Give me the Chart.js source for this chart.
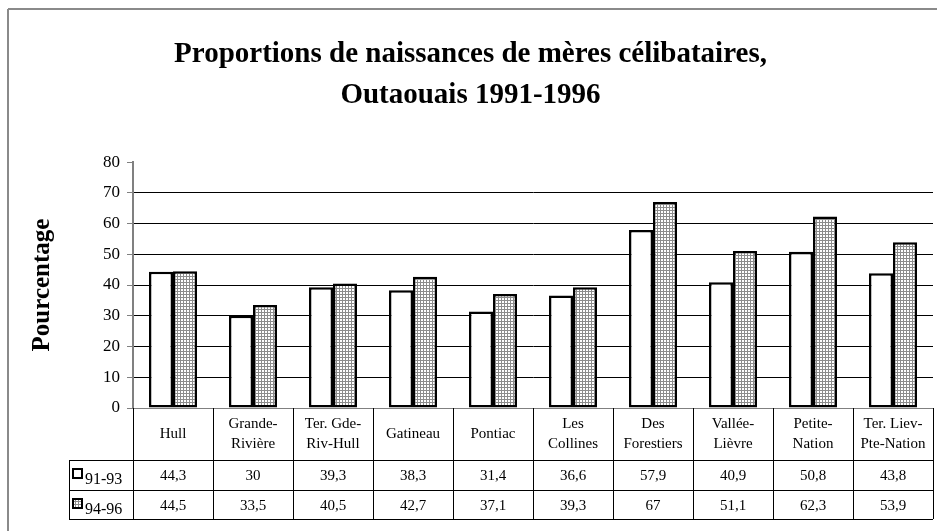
<!DOCTYPE html>
<html>
<head>
<meta charset="utf-8">
<script src="https://cdn.jsdelivr.net/npm/chart.js@4.4.1/dist/chart.umd.min.js"></script>
<style>
    body { margin: 0; background: #fff; }
    canvas { display: block; }
</style>
</head>
<body>
<canvas id="chart" width="937" height="531"></canvas>
<script>
// data
const categories = ['Hull', ['Grande-', 'Rivière'], ['Ter. Gde-', 'Riv-Hull'], 'Gatineau', 'Pontiac',
    ['Les', 'Collines'], ['Des', 'Forestiers'], ['Vallée-', 'Lièvre'], ['Petite-', 'Nation'], ['Ter. Liev-', 'Pte-Nation']];
const values9193 = [44.3, 30, 39.3, 38.3, 31.4, 36.6, 57.9, 40.9, 50.8, 43.8];
const values9496 = [44.5, 33.5, 40.5, 42.7, 37.1, 39.3, 67, 51.1, 62.3, 53.9];
const seriesNames = ['91-93', '94-96'];
const yMin = 0, yMax = 80, yStep = 10;

const canvas = document.getElementById('chart');
const ctx = canvas.getContext('2d');

function makeHatch() {
    const p = document.createElement('canvas');
    p.width = 3; p.height = 3;
    const g = p.getContext('2d');
    g.fillStyle = '#fff';
    g.fillRect(0, 0, 3, 3);
    g.fillStyle = '#8c8c8c';
    g.fillRect(0, 0, 3, 1);
    g.fillRect(0, 0, 1, 3);
    return ctx.createPattern(p, 'repeat');
}
const hatch = makeHatch();

const fmt = v => String(v).replace('.', ',');

function line(c, x1, y1, x2, y2) {
    c.beginPath();
    c.moveTo(x1, y1);
    c.lineTo(x2, y2);
    c.stroke();
}

const tablePlugin = {
    id: 'dataTable',
    beforeDraw(chart) {
        const c = chart.ctx;
        c.save();
        c.fillStyle = '#fff';
        c.fillRect(0, 0, chart.width, chart.height);
        c.strokeStyle = '#8a8a8a';
        c.lineWidth = 2;
        line(c, 8, chart.height, 8, 9);
        line(c, 8, 9, chart.width, 9);
        c.restore();
    },
    afterDraw(chart) {
        const c = chart.ctx;
        const a = chart.chartArea;
        const x = chart.scales.x;
        const n = categories.length;
        const w = (a.right - a.left) / n;
        const top = Math.round(a.bottom);
        const r1 = top + 52, r2 = r1 + 30, r3 = r2 + 29;
        const legL = 69;
        const px = v => Math.round(v) + 0.5;

        c.save();
        c.strokeStyle = '#000';
        c.lineWidth = 1;
        [r1, r2, r3].forEach(y => line(c, legL, px(y), a.right, px(y)));
        for (let i = 0; i <= n; i++) {
            const xx = px(a.left + i * w);
            line(c, xx, top, xx, r3);
        }
        line(c, px(legL), r1, px(legL), r3);

        c.fillStyle = '#000';
        c.textAlign = 'center';
        c.textBaseline = 'middle';
        c.font = '15px "Liberation Serif"';
        categories.forEach((cat, i) => {
            const cx = x.getPixelForValue(i);
            const lines = Array.isArray(cat) ? cat : [cat];
            const mid = (top + r1) / 2;
            lines.forEach((t, j) => {
                c.fillText(t, cx, mid + (j - (lines.length - 1) / 2) * 20);
            });
            c.fillText(fmt(values9193[i]), cx, (r1 + r2) / 2 + 1);
            c.fillText(fmt(values9496[i]), cx, (r2 + r3) / 2 + 2);
        });

        // legend keys
        const rows = [[r1, r2, '#fff'], [r2, r3, hatch]];
        c.textAlign = 'left';
        c.font = '16px "Liberation Serif"';
        rows.forEach((r, k) => {
            const ky = Math.round((r[0] + r[1]) / 2) - 6;
            c.fillStyle = r[2];
            c.fillRect(73, ky, 9, 9);
            c.lineWidth = 2;
            c.strokeRect(73, ky, 9, 9);
            c.fillStyle = '#000';
            c.fillText(seriesNames[k], 85, (r[0] + r[1]) / 2 + 5);
        });
        c.restore();
    }
};

new Chart(ctx, {
    type: 'bar',
    data: {
        labels: categories,
        datasets: [{
            label: seriesNames[0],
            data: values9193,
            backgroundColor: '#fff',
            borderColor: '#000',
            borderWidth: 2.5,
            borderSkipped: false
        }, {
            label: seriesNames[1],
            data: values9496,
            backgroundColor: hatch,
            borderColor: '#000',
            borderWidth: 2.5,
            borderSkipped: false
        }]
    },
    options: {
        responsive: false,
        animation: false,
        devicePixelRatio: 1,
        categoryPercentage: 0.6,
        barPercentage: 1,
        layout: { padding: { left: 8, right: 4, top: 0, bottom: 123 } },
        plugins: {
            legend: { display: false },
            tooltip: { enabled: false },
            title: {
                display: true,
                text: ['Proportions de naissances de mères célibataires,', 'Outaouais 1991-1996'],
                color: '#000',
                font: { family: 'Liberation Serif', size: 29, weight: 'bold', lineHeight: 1.38 },
                padding: { top: 35, bottom: 47 }
            }
        },
        scales: {
            x: { display: false },
            y: {
                min: yMin,
                max: yMax,
                ticks: {
                    stepSize: yStep,
                    color: '#000',
                    padding: 7,
                    font: { family: 'Liberation Serif', size: 17 }
                },
                border: { color: '#808080', width: 2 },
                grid: {
                    color: c => c.tick.value === yMax ? 'rgba(0,0,0,0)' : (c.tick.value === 0 ? '#808080' : '#000'),
                    tickColor: '#808080',
                    tickLength: 6,
                    lineWidth: 1
                },
                title: {
                    display: true,
                    text: 'Pourcentage',
                    color: '#000',
                    font: { family: 'Liberation Serif', size: 25, weight: 'bold' },
                    padding: { top: 20, bottom: 0 }
                },
                afterFit(scale) { scale.width = 125; }
            }
        }
    },
    plugins: [tablePlugin]
});
</script>
</body>
</html>
